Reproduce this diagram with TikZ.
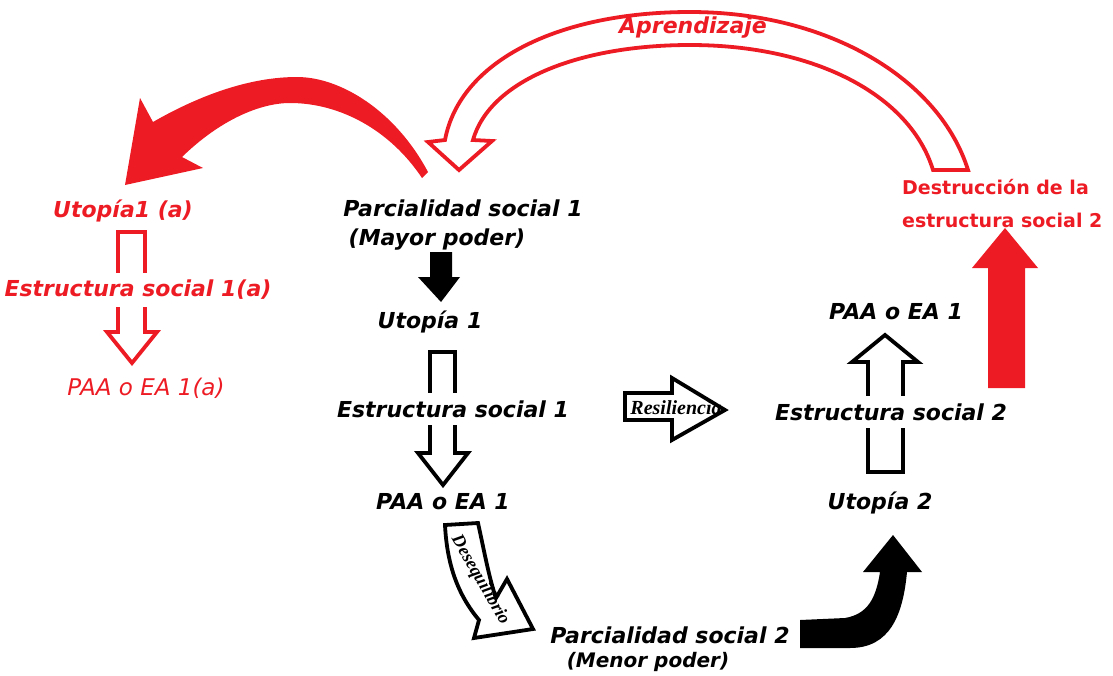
\documentclass[tikz,border=0pt]{standalone}
\usepackage{fontspec}
\setmainfont{DejaVu Sans}
\newfontfamily\serifbi{Liberation Serif}
\definecolor{paintred}{RGB}{237,28,36}

\begin{document}
\begin{tikzpicture}[
  x=1pt, y=-1pt,
  lbl/.style={font=\fontsize{22}{26}\selectfont\bfseries\itshape, inner sep=1pt},
  redlbl/.style={lbl, text=paintred},
  cover/.style={fill=white, inner ysep=7pt, inner xsep=3pt},
  small/.style={font=\fontsize{20}{22}\selectfont\serifbi\bfseries\itshape, inner sep=0pt},
  hollow/.style={draw=black, fill=white, line width=3.8pt, line join=miter},
  redhollow/.style={hollow, draw=paintred},
]
\useasboundingbox (0,0) rectangle (1113,675);

% Aprendizaje (hollow red arc)
\draw[redhollow] (933,170) -- (968,170) .. controls (940,80) and (830,12) .. (690,12)
  .. controls (560,12) and (460,60) .. (445,140) -- (428,142) -- (459,170) -- (492,141)
  -- (473,140) .. controls (490,80) and (580,45) .. (690,45)
  .. controls (815,45) and (910,95) .. (933,170) -- cycle;

% Big red arrow to the left column
\fill[paintred] (428,172) .. controls (395,110) and (340,77) .. (297,77)
  .. controls (250,77) and (200,95) .. (153,122) -- (140,98) -- (125,185) -- (203,168)
  -- (182,157) .. controls (220,120) and (260,103) .. (290,103)
  .. controls (340,103) and (390,130) .. (422,178) -- cycle;

% Left column arrow
\draw[redhollow] (118,232) -- (145,232) -- (145,332) -- (157,332) -- (132,363)
  -- (107,332) -- (118,332) -- cycle;

% Middle column arrows
\fill (430,252) -- (452,252) -- (452,277) -- (460,277) -- (441,302) -- (418,277)
  -- (430,277) -- cycle;
\draw[hollow] (430,352) -- (455,352) -- (455,453) -- (468,453) -- (443,485)
  -- (418,453) -- (430,453) -- cycle;

% Desequilibrio
\draw[hollow] (445,525) -- (478,523) .. controls (484,550) and (489,578) .. (496,598)
  -- (507,579) -- (533,629) -- (474,638) -- (479,620)
  .. controls (458,595) and (447,565) .. cycle;

% Resiliencia
\draw[hollow] (625,393) -- (672,393) -- (672,378) -- (725,410) -- (672,440)
  -- (672,420) -- (625,420) -- cycle;

% Right column arrows
\fill (800,620) -- (845,618) .. controls (868,614) and (876,598) .. (880,572)
  -- (863,572) -- (893,535) -- (922,572) -- (907,572)
  .. controls (903,615) and (890,648) .. (850,648) -- (800,648) -- cycle;
\draw[hollow] (868,472) -- (903,472) -- (903,362) -- (918,362) -- (885,335)
  -- (852,362) -- (868,362) -- cycle;
\fill[paintred] (988,388) -- (988,268) -- (972,268) -- (1005,228) -- (1038,268)
  -- (1025,268) -- (1025,388) -- cycle;

% Middle column labels
\node[lbl] (par1a) at (463,208) {Parcialidad social 1};
\node[lbl] (par1b) at (437,240) {(Mayor poder)};
\node[lbl] (uto1) at (430,322) {Utopía 1};
\node[lbl, cover] (est1) at (453,409) {Estructura social 1};
\node[lbl] (paa1) at (443,502) {PAA o EA 1};
\node[lbl] (par2a) at (670,635) {Parcialidad social 2};
\node[lbl, font=\fontsize{20}{24}\selectfont\bfseries\itshape] (par2b) at (648,662) {(Menor poder)};

% Right column labels
\node[lbl] (paa2) at (896,312) {PAA o EA 1};
\node[lbl, cover] (est2) at (891,412) {Estructura social 2};
\node[lbl] (uto2) at (880,503) {Utopía 2};
\node[redlbl, font=\fontsize{19}{33}\selectfont\bfseries, anchor=west, align=left]
  (destr) at (901,204) {Destrucción de la\\estructura social 2};

% Left column labels
\node[redlbl] (utoA) at (123,211) {Utopía1 (a)};
\node[redlbl, cover] (estA) at (138,290) {Estructura social 1(a)};
\node[redlbl, font=\fontsize{23}{26}\selectfont\itshape] (paaA) at (146,388) {PAA o EA 1(a)};

% Arrow labels
\node[redlbl] (apr) at (693,28) {Aprendizaje};
\node[small] (resil) at (676,408) {Resiliencia};
\node[small, font=\fontsize{18}{20}\selectfont\serifbi\bfseries\itshape, rotate=-60]
  (deseq) at (480,580) {Desequilibrio};
\end{tikzpicture}
\end{document}
